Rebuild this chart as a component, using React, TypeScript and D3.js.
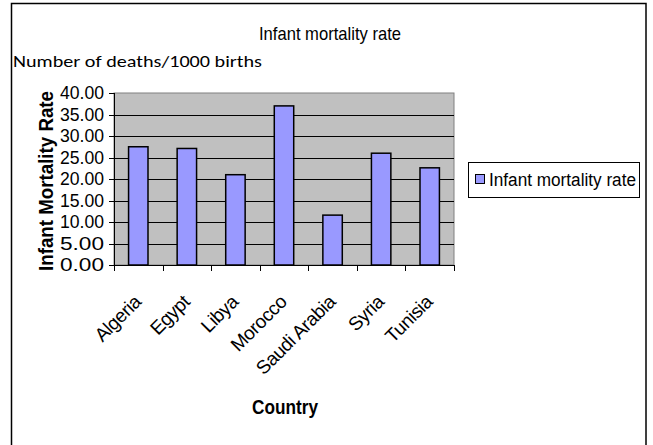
import { useEffect, useRef } from 'react';
import * as d3 from 'd3';

const countries = ['Algeria', 'Egypt', 'Libya', 'Morocco', 'Saudi Arabia', 'Syria', 'Tunisia'];
const rates = [27.5, 27.1, 21.0, 37.0, 11.6, 26.0, 22.6];
const yTicks = [0, 5, 10, 15, 20, 25, 30, 35, 40];

const seriesName = 'Infant mortality rate';
const chartTitle = 'Infant mortality rate';
const subTitle = 'Number of deaths/1000 births';

export const App = () => {
  const ref = useRef<SVGSVGElement>(null);

  useEffect(() => {
    if (!ref.current) return;
    const svg = d3.select(ref.current);
    svg.selectAll('*').remove();

    const width = 653;
    const height = 445;
    const plot = { left: 114, right: 454, top: 93, bottom: 265 };
    const font = '"Liberation Sans", Arial, sans-serif';

    svg.append('rect').attr('width', width).attr('height', height).attr('fill', '#fff');
    // chart frame
    svg
      .append('rect')
      .attr('x', 11.5)
      .attr('y', 3.5)
      .attr('width', 634.5)
      .attr('height', 460)
      .attr('fill', '#fff')
      .attr('stroke', '#000')
      .attr('stroke-width', 1.5);

    const x = d3.scaleBand<string>().domain(countries).range([plot.left, plot.right]).paddingInner(0.6).paddingOuter(0.3);
    const y = d3.scaleLinear().domain([0, 40]).range([plot.bottom, plot.top]);
    const step = x.step();

    // plot area
    svg
      .append('rect')
      .attr('x', plot.left)
      .attr('y', plot.top)
      .attr('width', plot.right - plot.left)
      .attr('height', plot.bottom - plot.top)
      .attr('fill', '#c0c0c0')
      .attr('stroke', '#808080')
      .attr('stroke-width', 1);

    // gridlines
    svg
      .append('g')
      .selectAll('line')
      .data(yTicks.filter((t) => t > 0 && t < 40))
      .join('line')
      .attr('x1', plot.left)
      .attr('x2', plot.right)
      .attr('y1', (d) => Math.round(y(d)) + 0.5)
      .attr('y2', (d) => Math.round(y(d)) + 0.5)
      .attr('stroke', '#000')
      .attr('stroke-width', 1);

    // bars
    svg
      .append('g')
      .selectAll('rect')
      .data(rates)
      .join('rect')
      .attr('x', (_, i) => x(countries[i]) as number)
      .attr('y', (d) => y(d))
      .attr('width', x.bandwidth())
      .attr('height', (d) => y(0) - y(d))
      .attr('fill', '#9999ff')
      .attr('stroke', '#000')
      .attr('stroke-width', 1.5);

    // axes lines
    svg
      .append('line')
      .attr('x1', plot.left + 0.5)
      .attr('x2', plot.left + 0.5)
      .attr('y1', plot.top)
      .attr('y2', plot.bottom)
      .attr('stroke', '#000');
    svg
      .append('line')
      .attr('x1', plot.left)
      .attr('x2', plot.right)
      .attr('y1', plot.bottom + 0.5)
      .attr('y2', plot.bottom + 0.5)
      .attr('stroke', '#000');

    // y ticks + labels
    const yg = svg.append('g');
    yg.selectAll('line')
      .data(yTicks)
      .join('line')
      .attr('x1', plot.left - 5)
      .attr('x2', plot.left)
      .attr('y1', (d) => Math.round(y(d)) + 0.5)
      .attr('y2', (d) => Math.round(y(d)) + 0.5)
      .attr('stroke', '#000');
    yg.selectAll('text')
      .data(yTicks)
      .join('text')
      .attr('x', plot.left - 10)
      .attr('y', (d) => y(d))
      .attr('dy', '0.36em')
      .attr('text-anchor', 'end')
      .attr('font-family', font)
      .attr('font-size', 17.5)
      .attr('textLength', 44)
      .attr('lengthAdjust', 'spacingAndGlyphs')
      .text((d) => d.toFixed(2));

    // x ticks at category boundaries
    const xg = svg.append('g');
    xg.selectAll('line')
      .data(d3.range(countries.length + 1))
      .join('line')
      .attr('x1', (i) => Math.round(plot.left + i * step) + 0.5)
      .attr('x2', (i) => Math.round(plot.left + i * step) + 0.5)
      .attr('y1', plot.bottom)
      .attr('y2', plot.bottom + 6)
      .attr('stroke', '#000');
    xg.selectAll('text')
      .data(countries)
      .join('text')
      .attr('transform', (d) => `translate(${(x(d) as number) + x.bandwidth() / 2 + 4},${plot.bottom + 38}) rotate(-45)`)
      .attr('text-anchor', 'end')
      .attr('font-family', font)
      .attr('font-size', 19)
      .attr('letter-spacing', -0.4)
      .text((d) => d);

    // titles
    svg
      .append('text')
      .attr('x', 330)
      .attr('y', 40)
      .attr('text-anchor', 'middle')
      .attr('font-family', font)
      .attr('font-size', 19)
      .attr('textLength', 142)
      .attr('lengthAdjust', 'spacingAndGlyphs')
      .text(chartTitle);
    svg
      .append('text')
      .attr('x', 13)
      .attr('y', 67)
      .attr('font-family', 'Carlito, Calibri, "Open Sans", sans-serif')
      .attr('font-size', 16)
      .attr('textLength', 249)
      .attr('lengthAdjust', 'spacingAndGlyphs')
      .text(subTitle);

    svg
      .append('text')
      .attr('transform', `translate(53,${(plot.top + plot.bottom) / 2 + 2}) rotate(-90)`)
      .attr('text-anchor', 'middle')
      .attr('font-family', font)
      .attr('font-weight', 'bold')
      .attr('font-size', 19.5)
      .attr('textLength', 180)
      .attr('lengthAdjust', 'spacingAndGlyphs')
      .text('Infant Mortality Rate');

    svg
      .append('text')
      .attr('x', 285)
      .attr('y', 414)
      .attr('text-anchor', 'middle')
      .attr('font-family', font)
      .attr('font-weight', 'bold')
      .attr('font-size', 20)
      .attr('textLength', 66)
      .attr('lengthAdjust', 'spacingAndGlyphs')
      .text('Country');

    // legend
    const lg = svg.append('g');
    lg.append('rect')
      .attr('x', 468.5)
      .attr('y', 162.5)
      .attr('width', 171)
      .attr('height', 35)
      .attr('fill', '#fff')
      .attr('stroke', '#000');
    lg.append('rect')
      .attr('x', 475.5)
      .attr('y', 174.5)
      .attr('width', 9)
      .attr('height', 9)
      .attr('fill', '#9999ff')
      .attr('stroke', '#000');
    lg.append('text')
      .attr('x', 489)
      .attr('y', 186)
      .attr('font-family', font)
      .attr('font-size', 18)
      .attr('textLength', 147)
      .attr('lengthAdjust', 'spacingAndGlyphs')
      .text(seriesName);
  }, []);

  return (
    <svg
      ref={ref}
      width={653}
      height={445}
      style={{ position: 'absolute', left: 0, top: 0, display: 'block' }}
      role="img"
      aria-label="Infant mortality rate bar chart"
    />
  );
};

export default App;
